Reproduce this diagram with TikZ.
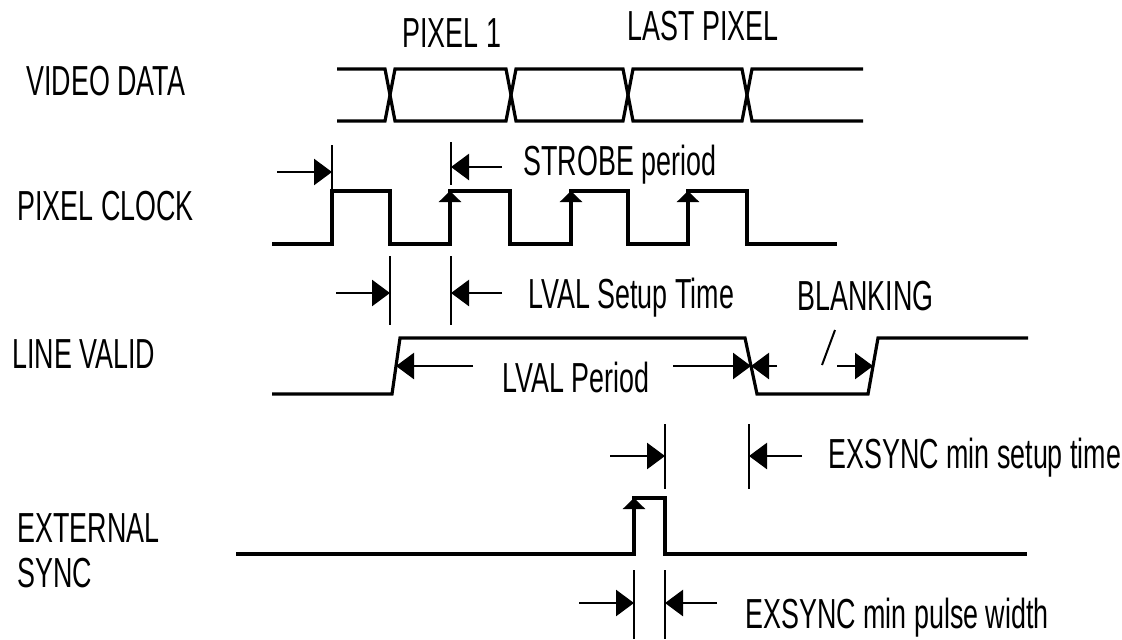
\documentclass[tikz,border=0pt]{standalone}
\usepackage{fontspec}
\usepackage{tikz}
\usetikzlibrary{arrows.meta}
\newfontfamily\pixfont[FakeStretch=0.64]{Liberation Sans}

\begin{document}
\begin{tikzpicture}[x=0.5pt,y=-0.5pt,
  wave/.style={line width=1.6pt},
  dim/.style={line width=1.3pt},
  dimarrow/.style={dim,-{Triangle[length=9pt,width=13pt]}},
  edgearrow/.style={wave,-{Triangle[length=5.5pt,width=11pt]}},
  lbl/.style={inner sep=0pt,anchor=base west,font=\pixfont\fontsize{21}{24}\selectfont}]
\useasboundingbox (0,0) rectangle (1122,639);
% signal names
\node[lbl] (vdata) at (26,95) {VIDEO DATA};
\node[lbl] (pclk) at (17,220) {PIXEL CLOCK};
\node[lbl] (lval) at (12,368) {LINE VALID};
\node[lbl] (ext) at (17,542) {EXTERNAL};
\node[lbl] (sync) at (17,587) {SYNC};
%%%%%%%%%%%%%%%%%%%%%%%%%%%%%%%%%
% video data bus
\node[lbl] (pix1) at (402,47) {PIXEL 1};
\node[lbl] (lastpix) at (627,40) {LAST PIXEL};
\draw[wave] (337,69) -- (385,69) -- (390,95) -- (385,121) -- (337,121);
\draw[wave] (390,95) -- (395,69) -- (506,69) -- (511,95) -- (506,121) -- (395,121) -- cycle;
\draw[wave] (511,95) -- (516,69) -- (623,69) -- (628,95) -- (623,121) -- (516,121) -- cycle;
\draw[wave] (628,95) -- (633,69) -- (742,69) -- (747,95) -- (742,121) -- (633,121) -- cycle;
\draw[wave] (863,69) -- (752,69) -- (747,95) -- (752,121) -- (863,121);
%%%%%%%%%%%%%%%%%%%%%%%%%%%%%%%%%
% pixel clock
\draw[wave] (272,244) -- (332,244) -- (332,191) -- (390,191) -- (390,244) -- (450,244)
  -- (450,191) -- (510,191) -- (510,244) -- (571,244) -- (571,191) -- (628,191)
  -- (628,244) -- (688,244) -- (688,191) -- (747,191) -- (747,244) -- (837,244);
\draw[edgearrow] (450,225) -- (450,191);
\draw[edgearrow] (571,225) -- (571,191);
\draw[edgearrow] (688,225) -- (688,191);
\draw[dim] (332,191) -- (332,145);
\draw[dimarrow] (277,172) -- (332,172);
\draw[dim] (451,142) -- (451,185);
\draw[dimarrow] (502,167) -- (451,167);
\node[lbl] (strobe) at (523,175) {STROBE period};
%%%%%%%%%%%%%%%%%%%%%%%%%%%%%%%%%
% line valid
\draw[dim] (390,256) -- (390,325);
\draw[dimarrow] (336,293) -- (390,293);
\draw[dim] (451,256) -- (451,325);
\draw[dimarrow] (502,293) -- (451,293);
\node[lbl] (setup) at (528,308) {LVAL Setup Time};
\draw[wave] (272,394) -- (392,394) -- (400,338) -- (745,338) -- (757,394) -- (868,394)
  -- (878,338) -- (1028,338);
\draw[dimarrow] (473,366) -- (396,366);
\node[lbl] (period) at (502,392) {LVAL Period};
\draw[dimarrow] (673,366) -- (751,366);
\draw[dimarrow] (777,366) -- (751,366);
\node[lbl] (blank) at (797,310) {BLANKING};
\draw[line width=1pt] (835,330) -- (822,365);
\draw[dimarrow] (837,366) -- (873,366);
%%%%%%%%%%%%%%%%%%%%%%%%%%%%%%%%%
% external sync
\draw[wave] (236,554) -- (634,554) -- (634,498) -- (665,498) -- (665,554) -- (1027,554);
\draw[edgearrow] (634,530) -- (634,498);
\draw[dim] (665,424) -- (665,489);
\draw[dimarrow] (610,456) -- (665,456);
\draw[dim] (749,424) -- (749,489);
\draw[dimarrow] (802,456) -- (749,456);
\node[lbl] (exsetup) at (828,468) {EXSYNC min setup time};
\draw[dim] (634,570) -- (634,639);
\draw[dim] (665,570) -- (665,639);
\draw[dimarrow] (579,603) -- (634,603);
\draw[dimarrow] (717,603) -- (665,603);
\node[lbl] (exwidth) at (745,628) {EXSYNC min pulse width};
\end{tikzpicture}
\end{document}
